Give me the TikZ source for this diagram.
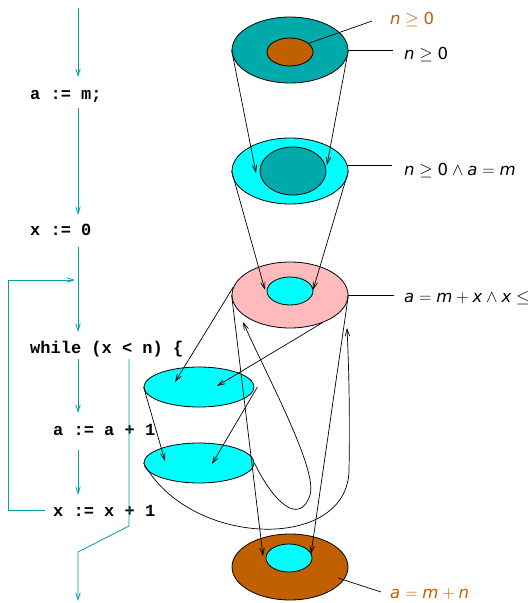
\documentclass[tikz,border=0pt]{standalone}
\usepackage{fontspec}
\usetikzlibrary{shapes.geometric,arrows.meta}
\newfontfamily\codefont{Liberation Mono}
\newfontfamily\labfont{DejaVu Sans}
\definecolor{tealc}{RGB}{0,170,170}
\definecolor{flowc}{RGB}{0,160,160}
\definecolor{cyanc}{RGB}{0,255,255}
\definecolor{pinkc}{RGB}{255,187,187}
\definecolor{brownc}{RGB}{192,96,0}
\newcommand\sv[1]{\mbox{\labfont\itshape #1}}
\newcommand\sd[1]{\mbox{\labfont #1}}
\begin{document}
\begin{tikzpicture}[x=1pt,y=-1pt,
  >={Straight Barb[length=7pt,width=4.5pt]},
  code/.style={anchor=base west,inner sep=0pt,font=\codefont\bfseries\fontsize{17}{20}\selectfont},
  flow/.style={draw=flowc,line width=0.8pt},
  lab/.style={anchor=base west,inner sep=0pt,font=\fontsize{16.5}{20}\selectfont},
  ell/.style={ellipse,draw=black,line width=0.8pt,inner sep=0pt},
  big/.style={ell,minimum width=116pt,minimum height=66pt},
  small/.style={ell,minimum width=46pt,minimum height=28pt},
  mid/.style={ell,minimum width=110pt,minimum height=40pt},
  conn/.style={draw=black,line width=0.7pt},
]
\useasboundingbox (0,0) rectangle (531,603);
% ---- code column ----
\node[code] (s1) at (30,99) {a := m;};
\node[code] (s2) at (30,235) {x := 0};
\node[code] (s3) at (30,353) {while (x < n) \{};
\node[code] (s4) at (53,435) {a := a + 1};
\node[code] (s5) at (53,516) {x := x + 1};
\coordinate (f0) at (78,8);
\coordinate (f1) at (78,77);
\coordinate (f2) at (78,108);
\coordinate (f3) at (78,215);
\coordinate (f4) at (78,247);
\coordinate (f5) at (78,332);
\coordinate (f6) at (78,359);
\coordinate (f7) at (78,413);
\coordinate (f8) at (78,450);
\coordinate (f9) at (78,495);
\coordinate (lp0) at (45,510);
\coordinate (lp1) at (8,510);
\coordinate (lp2) at (8,280);
\coordinate (lp3) at (75,280);
\coordinate (x0) at (129,359);
\coordinate (x1) at (129,526);
\coordinate (x2) at (78,552);
\coordinate (x3) at (78,601);
\draw[flow,->] (f0) -- (f1);
\draw[flow,->] (f2) -- (f3);
\draw[flow,->] (f4) -- (f5);
\draw[flow,->] (lp0) -- (lp1) -- (lp2) -- (lp3);
\draw[flow,->] (f6) -- (f7);
\draw[flow,->] (f8) -- (f9);
\draw[flow,->] (x0) -- (x1) -- (x2) -- (x3);
% ---- ellipses ----
\node[big,fill=tealc] (e1) at (290,50) {};
\node[small,fill=brownc] (e1i) at (290,52) {};
\node[big,fill=cyanc] (e2) at (290,171) {};
\node[ell,fill=tealc,minimum width=66pt,minimum height=48pt] (e2i) at (293,171) {};
\node[big,fill=pinkc] (e3) at (290,295) {};
\node[small,fill=cyanc] (e3i) at (290,291) {};
\node[mid,fill=cyanc] (e4) at (199,387) {};
\node[mid,fill=cyanc] (e5) at (199,463) {};
\node[big,fill=brownc] (e6) at (290,567) {};
\node[small,fill=cyanc] (e6i) at (289,558) {};
% ---- arrow targets ----
\coordinate (a1) at (256,173);
\coordinate (a2) at (327,165);
\coordinate (a3) at (265,290);
\coordinate (a4) at (313,290);
\coordinate (a5) at (175,382);
\coordinate (a6) at (217,386);
\coordinate (a7) at (165,461);
\coordinate (a8) at (212,464);
\coordinate (a9) at (243,322);
\coordinate (a10) at (347,328);
\coordinate (a11) at (263,556);
\coordinate (a12) at (311,554);
\draw[conn,->] (e1.west) -- (a1);
\draw[conn,->] (e1.east) -- (a2);
\draw[conn,->] (e2.west) -- (a3);
\draw[conn,->] (e2.east) -- (a4);
\draw[conn,->] (e3.172) -- (a5);
\draw[conn,->] (e3.-41) -- (a6);
\draw[conn,->] (e4.west) -- (a7);
\draw[conn,->] ([xshift=3pt]e4.east) -- (a8);
\draw[conn,->] (e5.east) .. controls (275,505) and (300,525) .. (310,495)
   .. controls (318,470) and (268,378) .. (a9);
\draw[conn,->] (e5.west) .. controls (190,548) and (348,552) .. (349,470)
   .. controls (350,420) and (349,370) .. (a10);
\draw[conn,->] (e3.west) -- (a11);
\draw[conn,->] (e3.east) -- (a12);
% ---- labels ----
\coordinate (l1e) at (372,21);
\coordinate (l5s) at (338,578);
\coordinate (l5e) at (381,592);
\draw[conn] (e1i.25) -- (l1e);
\draw[conn] (e1.east) -- ++(45,0);
\draw[conn] (e2.6) -- ++(45,0);
\draw[conn] (e3.east) -- ++(46,0);
\draw[conn] (l5s) -- (l5e);
\node[lab,text=brownc] (t1) at (390,24) {$\sv{n}\geq\sd{0}$};
\node[lab] (t2) at (404,59) {$\sv{n}\geq\sd{0}$};
\node[lab] (t3) at (404,175) {$\sv{n}\geq\sd{0}\wedge\sv{a}=\sv{m}$};
\node[lab] (t4) at (404,302) {$\sv{a}=\sv{m}+\sv{x}\wedge\sv{x}\leq$};
\node[lab,text=brownc] (t5) at (390,598) {$\sv{a}=\sv{m}+\sv{n}$};
\end{tikzpicture}
\end{document}
